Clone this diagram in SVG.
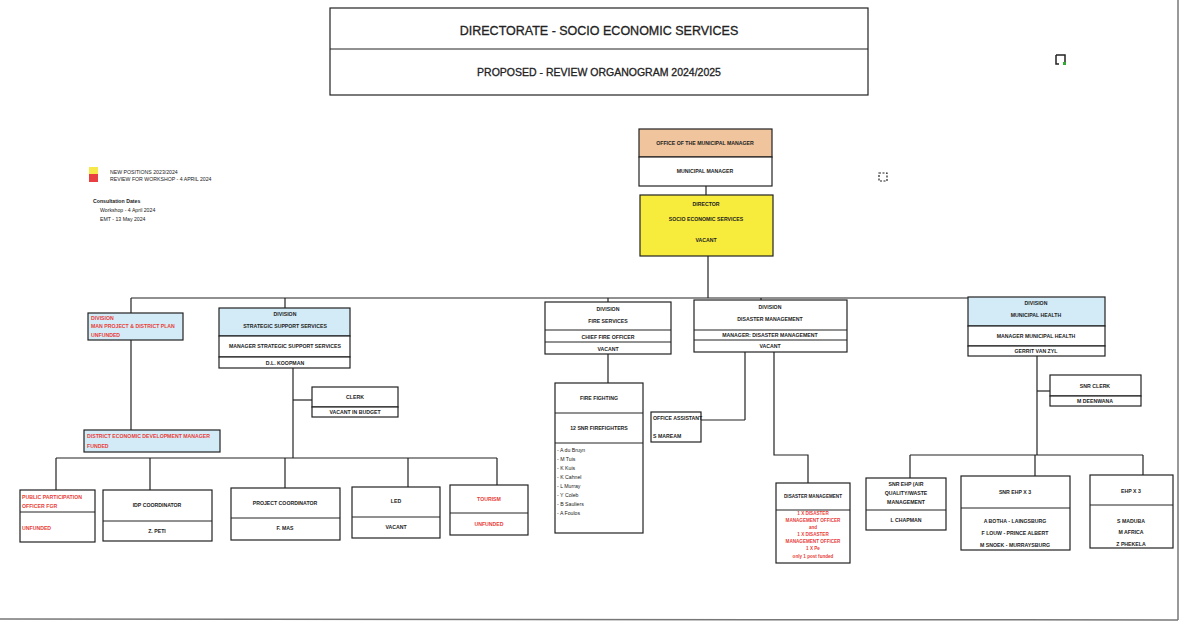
<svg xmlns="http://www.w3.org/2000/svg" width="1192" height="630" viewBox="0 0 1192 630">
  <style>
    .box{fill:#fff;stroke:#222;stroke-width:1.2}
    .blue{fill:#d3ebf7;stroke:#222;stroke-width:1.2}
    .orange{fill:#f0c49c;stroke:#222;stroke-width:1.2}
    .yellow{fill:#f7ec3c;stroke:#222;stroke-width:1.2}
    .div{stroke:#222;stroke-width:1}
    .t{font-family:"Liberation Sans",Arial,sans-serif;font-size:5.2px;font-weight:bold;fill:#222;text-anchor:middle}
    .tl{font-family:"Liberation Sans",Arial,sans-serif;font-size:5.2px;font-weight:bold;fill:#222}
    .n{font-weight:normal}
    .sm{font-size:4.6px}
    .r{fill:#e8403a}
    .title{font-family:"Liberation Sans",Arial,sans-serif;font-size:12.5px;fill:#222;text-anchor:middle;stroke:#222;stroke-width:0.3}
    .title2{font-size:10.5px}
    .conn{stroke:#222;stroke-width:1.2;fill:none}
  </style>
  <rect width="1192" height="630" fill="#fff"/>

  <!-- page frame -->
  <line x1="1178" y1="0" x2="1178" y2="620" stroke="#777" stroke-width="1.5"/>
  <line x1="0" y1="619" x2="1178" y2="620" stroke="#777" stroke-width="1.5"/>

  <!-- heading -->
  <g id="heading">
    <rect x="330" y="8" width="538" height="87" class="box"/>
    <line x1="330" y1="49" x2="868" y2="49" class="div"/>
    <text x="599" y="35" class="title">DIRECTORATE - SOCIO ECONOMIC SERVICES</text>
    <text x="599" y="76" class="title title2">PROPOSED - REVIEW ORGANOGRAM 2024/2025</text>
  </g>

  <!-- small marks -->
  <path d="M1056 55 h9 v9 M1056 55 v9 h3" stroke="#222" stroke-width="1.5" fill="none"/>
  <rect x="1063" y="62" width="3" height="3" fill="#3a3"/>
  <rect x="879" y="173" width="8" height="8" fill="none" stroke="#222" stroke-width="1.2" stroke-dasharray="2 1.5"/>

  <!-- legend -->
  <g id="legend">
    <rect x="89" y="167" width="9" height="7" fill="#f7e84a"/>
    <rect x="89" y="174" width="9" height="8" fill="#e84040"/>
    <text x="110" y="174" class="tl n">NEW POSITIONS 2023/2024</text>
    <text x="110" y="181" class="tl n">REVIEW FOR WORKSHOP - 4 APRIL 2024</text>
    <text x="93" y="203" class="tl">Consultation Dates</text>
    <text x="100" y="212" class="tl n">Workshop - 4 April 2024</text>
    <text x="100" y="221" class="tl n">EMT - 13 May 2024</text>
  </g>

  <!-- connectors -->
  <g id="connectors" class="conn">
    <line x1="706" y1="186" x2="706" y2="195"/>
    <line x1="708" y1="256" x2="708" y2="298"/>
    <line x1="131" y1="298" x2="1037" y2="298"/>
    <line x1="131" y1="298" x2="131" y2="313"/>
    <line x1="131" y1="340" x2="131" y2="430"/>
    <line x1="285" y1="298" x2="285" y2="308"/>
    <line x1="293" y1="368" x2="293" y2="458"/>
    <line x1="293" y1="400" x2="312" y2="400"/>
    <line x1="56" y1="458" x2="497" y2="458"/>
    <line x1="56" y1="458" x2="56" y2="490"/>
    <line x1="150" y1="458" x2="150" y2="490"/>
    <line x1="285" y1="458" x2="285" y2="488"/>
    <line x1="408" y1="458" x2="408" y2="487"/>
    <line x1="497" y1="458" x2="497" y2="485"/>
    <line x1="608" y1="298" x2="608" y2="302"/>
    <line x1="608" y1="354" x2="608" y2="383"/>
    <line x1="761" y1="298" x2="761" y2="300"/>
    <line x1="745" y1="352" x2="745" y2="420"/>
    <line x1="701" y1="420" x2="745" y2="420"/>
    <polyline points="774,352 774,455 808,455 808,483"/>
    <line x1="1037" y1="356" x2="1037" y2="455"/>
    <line x1="1037" y1="391" x2="1050" y2="391"/>
    <line x1="910" y1="455" x2="1143" y2="455"/>
    <line x1="910" y1="455" x2="910" y2="478"/>
    <line x1="1035" y1="455" x2="1035" y2="476"/>
    <line x1="1143" y1="455" x2="1143" y2="475"/>
  </g>

  <!-- municipal manager -->
  <g id="node-mm">
    <rect x="639" y="129" width="133" height="28" class="orange"/>
    <rect x="639" y="157" width="133" height="29" class="box"/>
    <text x="705" y="145" class="t">OFFICE OF THE MUNICIPAL MANAGER</text>
    <text x="705" y="173" class="t">MUNICIPAL MANAGER</text>
  </g>

  <!-- director -->
  <g id="node-director">
    <rect x="640" y="195" width="133" height="61" class="yellow"/>
    <text x="706" y="206" class="t">DIRECTOR</text>
    <text x="706" y="221" class="t">SOCIO ECONOMIC SERVICES</text>
    <text x="706" y="242" class="t">VACANT</text>
  </g>

  <!-- division man project -->
  <g id="node-manproject">
    <rect x="88" y="313" width="95" height="27" class="blue"/>
    <text x="91" y="320" class="tl r">DIVISION</text>
    <text x="91" y="328" class="tl r">MAN PROJECT &amp; DISTRICT PLAN</text>
    <text x="91" y="337" class="tl r">UNFUNDED</text>
  </g>

  <!-- district economic development manager -->
  <g id="node-districtecon">
    <rect x="84" y="430" width="136" height="22" class="blue"/>
    <text x="87" y="438" class="tl r">DISTRICT ECONOMIC DEVELOPMENT MANAGER</text>
    <text x="87" y="448" class="tl r">FUNDED</text>
  </g>

  <!-- strategic support -->
  <g id="node-strategic">
    <rect x="219" y="308" width="131" height="28" class="blue"/>
    <rect x="219" y="336" width="131" height="21" class="box"/>
    <rect x="219" y="357" width="131" height="11" class="box"/>
    <text x="285" y="316" class="t">DIVISION</text>
    <text x="285" y="328" class="t">STRATEGIC SUPPORT SERVICES</text>
    <text x="285" y="348" class="t">MANAGER STRATEGIC SUPPORT SERVICES</text>
    <text x="285" y="365" class="t">D.L. KOOPMAN</text>
  </g>

  <!-- clerk -->
  <g id="node-clerk">
    <rect x="312" y="387" width="86" height="20" class="box"/>
    <rect x="312" y="407" width="86" height="10" class="box"/>
    <text x="355" y="399" class="t">CLERK</text>
    <text x="355" y="414" class="t">VACANT IN BUDGET</text>
  </g>

  <!-- bottom left row -->
  <g id="node-publicpart">
    <rect x="20" y="490" width="75" height="52" class="box"/>
    <line x1="20" y1="512" x2="95" y2="512" class="div"/>
    <text x="22" y="499" class="tl r">PUBLIC PARTICIPATION</text>
    <text x="22" y="508" class="tl r">OFFICER FGR</text>
    <text x="22" y="530" class="tl r">UNFUNDED</text>
  </g>
  <g id="node-idp">
    <rect x="103" y="490" width="109" height="51" class="box"/>
    <line x1="103" y1="521" x2="212" y2="521" class="div"/>
    <text x="157" y="507" class="t">IDP COORDINATOR</text>
    <text x="157" y="533" class="t">Z. PETI</text>
  </g>
  <g id="node-projectcoord">
    <rect x="231" y="488" width="109" height="52" class="box"/>
    <line x1="231" y1="518" x2="340" y2="518" class="div"/>
    <text x="285" y="505" class="t">PROJECT COORDINATOR</text>
    <text x="285" y="530" class="t">F. MAS</text>
  </g>
  <g id="node-led">
    <rect x="352" y="487" width="88" height="51" class="box"/>
    <line x1="352" y1="517" x2="440" y2="517" class="div"/>
    <text x="396" y="503" class="t">LED</text>
    <text x="396" y="529" class="t">VACANT</text>
  </g>
  <g id="node-tourism">
    <rect x="450" y="485" width="78" height="50" class="box"/>
    <line x1="450" y1="513" x2="528" y2="513" class="div"/>
    <text x="489" y="501" class="t r">TOURISM</text>
    <text x="489" y="526" class="t r">UNFUNDED</text>
  </g>

  <!-- fire services -->
  <g id="node-fireservices">
    <rect x="545" y="302" width="126" height="52" class="box"/>
    <line x1="545" y1="330" x2="671" y2="330" class="div"/>
    <line x1="545" y1="342" x2="671" y2="342" class="div"/>
    <text x="608" y="311" class="t">DIVISION</text>
    <text x="608" y="323" class="t">FIRE SERVICES</text>
    <text x="608" y="339" class="t">CHIEF FIRE OFFICER</text>
    <text x="608" y="351" class="t">VACANT</text>
  </g>

  <!-- fire fighting -->
  <g id="node-firefighting">
    <rect x="555" y="383" width="88" height="150" class="box"/>
    <line x1="555" y1="413" x2="643" y2="413" class="div"/>
    <line x1="555" y1="443" x2="643" y2="443" class="div"/>
    <text x="599" y="400" class="t">FIRE FIGHTING</text>
    <text x="599" y="430" class="t">12 SNR FIREFIGHTERS</text>
    <text x="557" y="452" class="tl n">- A du Bruyn</text>
    <text x="557" y="461" class="tl n">- M Tuis</text>
    <text x="557" y="470" class="tl n">- K Kuis</text>
    <text x="557" y="479" class="tl n">- K Cahnel</text>
    <text x="557" y="488" class="tl n">- L Murray</text>
    <text x="557" y="497" class="tl n">- Y Coleb</text>
    <text x="557" y="506" class="tl n">- B Sauliers</text>
    <text x="557" y="515" class="tl n">- A Foulos</text>
  </g>

  <!-- office assistant -->
  <g id="node-officeassistant">
    <rect x="651" y="412" width="50" height="30" class="box"/>
    <text x="653" y="420" class="tl">OFFICE ASSISTANT</text>
    <text x="653" y="438" class="tl">S MAREAM</text>
  </g>

  <!-- disaster management division -->
  <g id="node-disasterdiv">
    <rect x="694" y="300" width="153" height="52" class="box"/>
    <line x1="694" y1="330" x2="847" y2="330" class="div"/>
    <line x1="694" y1="340" x2="847" y2="340" class="div"/>
    <text x="770" y="309" class="t">DIVISION</text>
    <text x="770" y="321" class="t">DISASTER MANAGEMENT</text>
    <text x="770" y="337" class="t">MANAGER: DISASTER MANAGEMENT</text>
    <text x="770" y="348" class="t">VACANT</text>
  </g>

  <!-- disaster management unit -->
  <g id="node-disasterunit">
    <rect x="776" y="483" width="74" height="80" class="box"/>
    <line x1="776" y1="510" x2="850" y2="510" class="div"/>
    <text x="813" y="498" class="t sm">DISASTER MANAGEMENT</text>
    <text x="813" y="515" class="t r sm">1 X DISASTER</text>
    <text x="813" y="522" class="t r sm">MANAGEMENT OFFICER</text>
    <text x="813" y="529" class="t r sm">and</text>
    <text x="813" y="536" class="t r sm">1 X DISASTER</text>
    <text x="813" y="543" class="t r sm">MANAGEMENT OFFICER</text>
    <text x="813" y="550" class="t r sm">1 X Pe</text>
    <text x="813" y="558" class="t r sm">only 1 post funded</text>
  </g>

  <!-- municipal health -->
  <g id="node-health">
    <rect x="968" y="297" width="137" height="29" class="blue"/>
    <rect x="968" y="326" width="137" height="20" class="box"/>
    <rect x="968" y="346" width="137" height="10" class="box"/>
    <text x="1036" y="305" class="t">DIVISION</text>
    <text x="1036" y="317" class="t">MUNICIPAL HEALTH</text>
    <text x="1036" y="338" class="t">MANAGER MUNICIPAL HEALTH</text>
    <text x="1036" y="353" class="t">GERRIT VAN ZYL</text>
  </g>

  <!-- snr clerk -->
  <g id="node-snrclerk">
    <rect x="1050" y="375" width="91" height="21" class="box"/>
    <rect x="1050" y="396" width="91" height="10" class="box"/>
    <text x="1095" y="388" class="t">SNR CLERK</text>
    <text x="1095" y="403" class="t">M DEENWANA</text>
  </g>

  <!-- environmental health practitioners -->
  <g id="node-ehpair">
    <rect x="866" y="478" width="80" height="52" class="box"/>
    <line x1="866" y1="510" x2="946" y2="510" class="div"/>
    <text x="906" y="486" class="t">SNR EHP (AIR</text>
    <text x="906" y="495" class="t">QUALITY/WASTE</text>
    <text x="906" y="504" class="t">MANAGEMENT</text>
    <text x="906" y="522" class="t">L CHAPMAN</text>
  </g>
  <g id="node-snrehp">
    <rect x="961" y="476" width="109" height="74" class="box"/>
    <line x1="961" y1="508" x2="1070" y2="508" class="div"/>
    <text x="1015" y="494" class="t">SNR EHP X 3</text>
    <text x="1015" y="523" class="t">A BOTHA - LAINGSBURG</text>
    <text x="1015" y="535" class="t">F LOUW - PRINCE ALBERT</text>
    <text x="1015" y="547" class="t">M SNOEK - MURRAYSBURG</text>
  </g>
  <g id="node-ehp">
    <rect x="1090" y="475" width="83" height="73" class="box"/>
    <line x1="1090" y1="505" x2="1173" y2="505" class="div"/>
    <text x="1131" y="493" class="t">EHP X 3</text>
    <text x="1131" y="523" class="t">S MADUBA</text>
    <text x="1131" y="534" class="t">M AFRICA</text>
    <text x="1131" y="546" class="t">Z PHEKELA</text>
  </g>
</svg>
